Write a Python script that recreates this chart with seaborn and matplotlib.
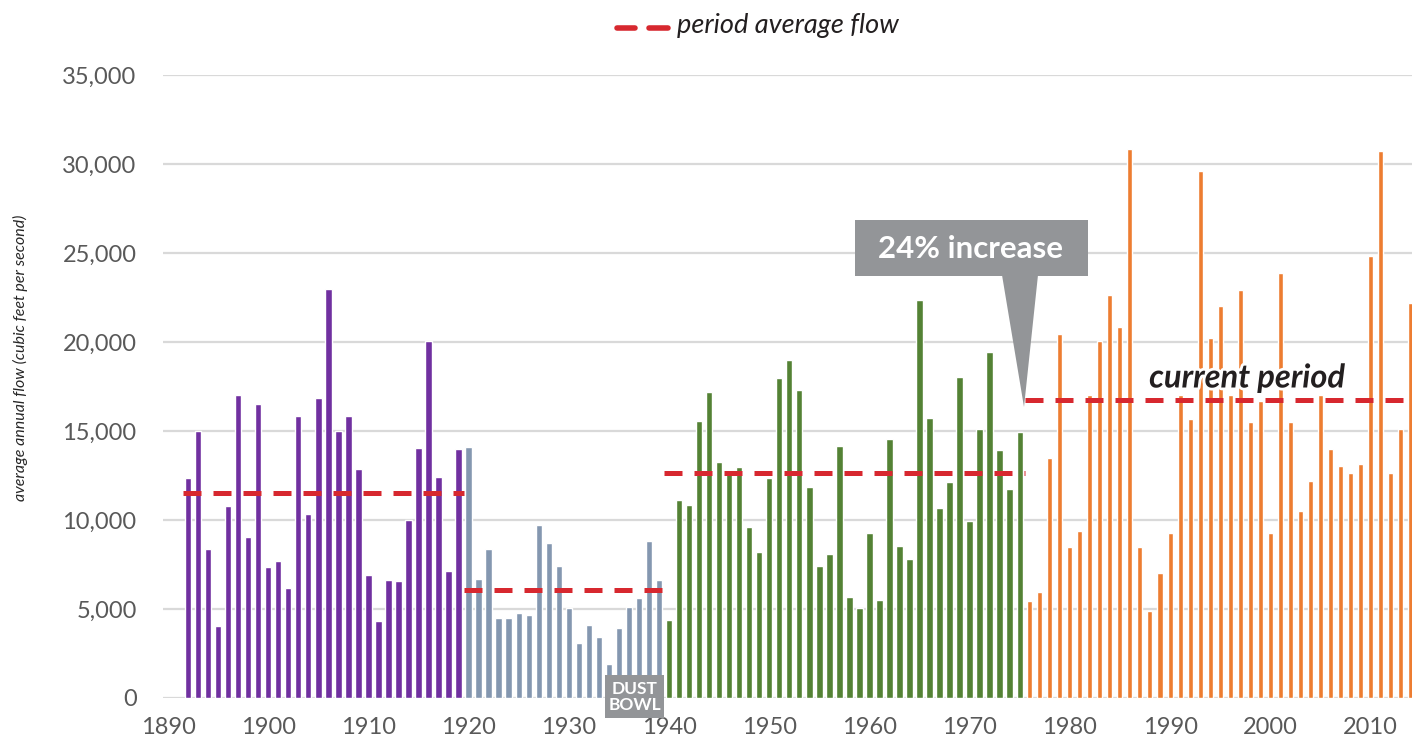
import matplotlib
matplotlib.use("Agg")
import matplotlib.pyplot as plt
import matplotlib.patheffects as pe
from matplotlib.patches import Polygon, Rectangle
from matplotlib.lines import Line2D
from matplotlib.ticker import FuncFormatter
import seaborn as sns
import pandas as pd
import numpy as np

# annual flow (cfs)
purple_years = np.arange(1892, 1920)
purple_flow = [12350, 15000, 8350, 4030, 10770, 17000, 9030, 16500, 7340, 7680,
               6160, 15820, 10320, 16840, 22960, 15000, 15820, 12850, 6890, 4310,
               6610, 6550, 9980, 14030, 20040, 12400, 7120, 13970]

gray_years = np.arange(1920, 1940)
gray_flow = [14080, 6670, 8350, 4480, 4480, 4760, 4640, 9700, 8690, 7400,
             5040, 3070, 4080, 3410, 1890, 3910, 5090, 5600, 8800, 6610]

green_years = np.arange(1940, 1976)
green_flow = [4400, 11140, 10860, 15580, 17210, 13280, 12720, 13000, 9630, 8220,
              12380, 18000, 19010, 17320, 11870, 7430, 8110, 14180, 5690, 5080,
              9290, 5520, 14570, 8560, 7830, 22380, 15750, 10690, 12150, 18050,
              9960, 15130, 19460, 13950, 11760, 14960]

orange_years = np.arange(1976, 2015)
orange_flow = [5460, 5930, 13510, 20460, 8510, 9360, 17030, 20080, 22660, 20830,
               30830, 8510, 4880, 7050, 9250, 17030, 15690, 29630, 20210, 22050,
               17030, 22900, 15480, 16700, 9250, 23880, 15480, 10480, 12180, 17030,
               14000, 13030, 12660, 13150, 24830, 30710, 12660, 15100, 22180]

period_avg = [11540, 6090, 12620, 16760]

x_ticks = list(range(1890, 2011, 10))
y_ticks = list(range(0, 35001, 5000))

sns.set_theme(style="white")
plt.rcParams["font.family"] = ["Lato", "DejaVu Sans"]

W, H = 1412, 749
fig = plt.figure(figsize=(W / 100, H / 100), dpi=100)
ax = fig.add_axes([163 / W, 1 - 698 / H, 1249 / W, 623 / H])


def px(x, y):
    # figure pixel (from top-left) -> figure fraction
    return (x / W, 1 - y / H)


periods = [
    (purple_years, purple_flow, "#7030a0", 0.64),
    (gray_years, gray_flow, "#8497b0", 0.64),
    (green_years, green_flow, "#548235", 0.64),
    (orange_years, orange_flow, "#ed7d31", 0.5),
]

for (yrs, flow, col, w), avg in zip(periods, period_avg):
    df = pd.DataFrame({"year": yrs, "flow": flow})
    sns.barplot(data=df, x="year", y="flow", color=col, width=w,
                native_scale=True, saturation=1, ax=ax, zorder=2)
    ax.plot([yrs[0] - 0.5, yrs[-1] + 0.5], [avg, avg], color="#d7282f",
            lw=3.6, dashes=(3.6, 2.4), zorder=3, solid_capstyle="butt")

ax.set_xlim(1889.5, 2014.15)
ax.set_ylim(0, 35000)
ax.set_xticks(x_ticks)
ax.set_yticks(y_ticks)
ax.xaxis.set_major_formatter(FuncFormatter(lambda v, p: f"{int(v)}"))
ax.yaxis.set_major_formatter(FuncFormatter(lambda v, p: f"{int(v):,}"))
ax.tick_params(axis="both", length=0, labelsize=17, labelcolor="#595959")
ax.tick_params(axis="y", pad=19)
ax.tick_params(axis="x", pad=14)
ax.set_xlabel("")
ax.set_ylabel("")
ax.yaxis.grid(True, color="#d9d9d9", lw=1.6)
ax.xaxis.grid(False)
ax.set_axisbelow(True)
for s in ax.spines.values():
    s.set_visible(False)

# y axis title
fig.text(*px(20, 358), "average annual flow (cubic feet per second)",
         rotation=90, ha="center", va="center", fontsize=11.5,
         style="italic", color="#262626")

# legend
for x0, x1 in [(617, 635), (649, 668)]:
    fig.add_artist(Line2D([x0 / W, x1 / W], [px(0, 28)[1]] * 2,
                          transform=fig.transFigure, color="#d7282f", lw=4))
fig.text(*px(677, 33), "period average flow", ha="left", va="baseline",
         fontsize=19.5, style="italic", color="#231f20")

# callout
gray = "#939598"
fig.add_artist(Rectangle(px(855, 276), 233 / W, 56 / H, transform=fig.transFigure,
                         facecolor=gray, edgecolor="none", zorder=5))
fig.add_artist(Polygon([px(1002, 275), px(1038, 275), px(1024, 407)],
                       closed=True, transform=fig.transFigure,
                       facecolor=gray, edgecolor="none", zorder=5))
fig.text(*px(971, 249), "24% increase", ha="center", va="center",
         fontsize=22.5, fontweight="bold", color="white", zorder=6)

fig.text(*px(1247, 378), "current period", ha="center", va="center",
         fontsize=23.5, fontweight="bold", style="italic", color="#231f20",
         zorder=6, path_effects=[pe.withStroke(linewidth=4, foreground="white")])

# dust bowl tag
fig.add_artist(Rectangle(px(605, 718), 59 / W, 43 / H, transform=fig.transFigure,
                         facecolor=gray, edgecolor="none", zorder=5))
fig.text(*px(634.5, 697), "DUST\nBOWL", ha="center", va="center",
         fontsize=12.5, fontweight="bold", color="white", linespacing=0.95,
         zorder=6)

fig.savefig("out.png", dpi=100)
